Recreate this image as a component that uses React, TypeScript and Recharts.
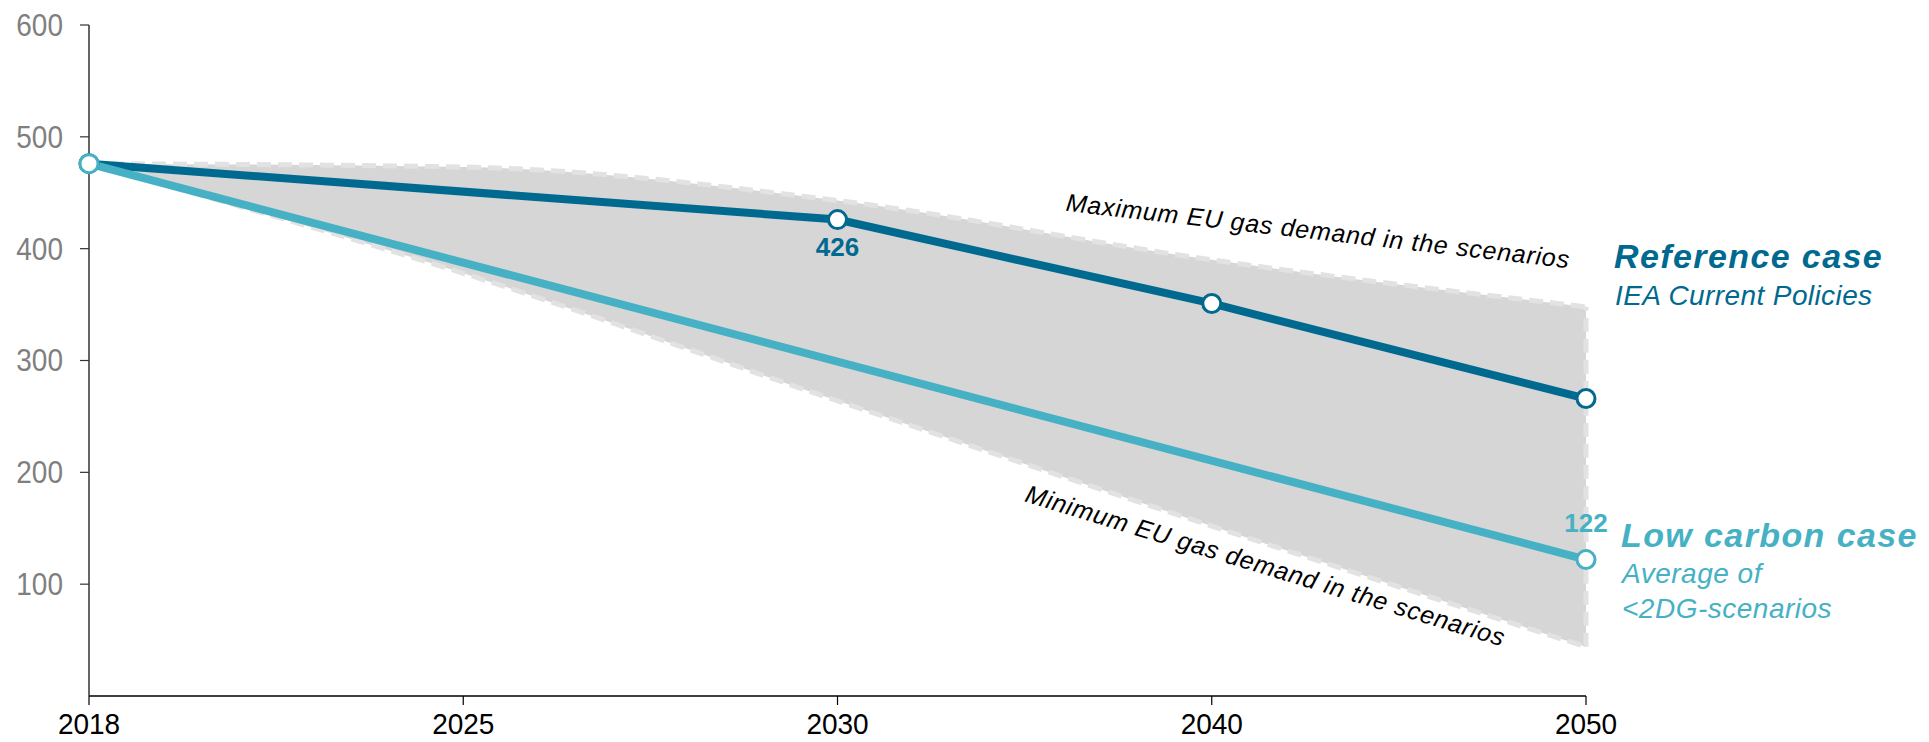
import React from 'react';
import {
  ComposedChart,
  Line,
  Area,
  XAxis,
  YAxis,
  ReferenceLine,
  Customized,
} from 'recharts';

// EU gas demand (bcm) by scenario
const years = ['2018', '2025', '2030', '2040', '2050'];
const referenceCase = [476, null, 426, 351, 266];
const lowCarbonCase = [476, null, null, null, 122];
const scenarioMax = [476, 473, 443, 390, 348];
const scenarioMin = [476, 378, 264, 152, 44];
const yTicks = [100, 200, 300, 400, 500, 600];

// which points carry a value label
const referenceLabelYear = '2030';
const lowCarbonLabelYear = '2050';

const DARK = '#00698f';
const TEAL = '#46b1c4';
const BAND = '#d6d6d6';
const BAND_EDGE = '#e2e2e2';
const FONT = '"Liberation Sans", Arial, Helvetica, sans-serif';

const data = years.map((year, i) => ({
  year,
  reference: referenceCase[i],
  lowCarbon: lowCarbonCase[i],
  band: [scenarioMin[i], scenarioMax[i]],
}));

const lastIndex = years.length - 1;

// Slightly tall tick lettering
const XTick = (props: any) => {
  const { x, y, payload } = props;
  return (
    <g transform={`translate(${x},${y}) scale(1,1.05)`}>
      <text x={0} y={0} dy="0.71em" textAnchor="middle" fontFamily={FONT} fontSize={28} fill="#000">
        {payload.value}
      </text>
    </g>
  );
};

const YTick = (props: any) => {
  const { x, y, payload } = props;
  return (
    <g transform={`translate(${x},${y}) scale(1,1.1)`}>
      <text x={0} y={0} dy="0.355em" textAnchor="end" fontFamily={FONT} fontSize={28} fill="#7f7f7f">
        {payload.value}
      </text>
    </g>
  );
};

const makeValueLabel =
  (labelYear: string, color: string, offset: number) => (props: any) => {
    const { x, y, value, index } = props;
    if (value == null || years[index] !== labelYear) return null;
    return (
      <text
        key={`lbl-${labelYear}-${index}`}
        x={x}
        y={y + offset}
        textAnchor="middle"
        fontFamily={FONT}
        fontWeight="bold"
        fontSize={26}
        fill={color}
      >
        {value}
      </text>
    );
  };

const dot = (color: string) => ({
  r: 9,
  fill: '#ffffff',
  stroke: color,
  strokeWidth: 3,
});

const Annotations = () => (
  <g fontFamily={FONT}>
    <text
      x={1317}
      y={239.5}
      textAnchor="middle"
      fontSize={25}
      fontStyle="italic"
      letterSpacing={0.8}
      fill="#000"
      transform="rotate(6.5 1317 239.5)"
    >
      Maximum EU gas demand in the scenarios
    </text>
    <text
      x={1263}
      y={574}
      textAnchor="middle"
      fontSize={25}
      fontStyle="italic"
      letterSpacing={0.8}
      fill="#000"
      transform="rotate(16.9 1263 574)"
    >
      Minimum EU gas demand in the scenarios
    </text>

    <text x={1614} y={268} fontSize={34} fontWeight="bold" fontStyle="italic" letterSpacing={1.4} fill={DARK}>
      Reference case
    </text>
    <text x={1615} y={305} fontSize={28} fontStyle="italic" letterSpacing={0.4} fill={DARK}>
      IEA Current Policies
    </text>

    <text x={1621} y={547} fontSize={34} fontWeight="bold" fontStyle="italic" letterSpacing={1.4} fill={TEAL}>
      Low carbon case
    </text>
    <text x={1622} y={583} fontSize={28} fontStyle="italic" letterSpacing={0.5} fill={TEAL}>
      Average of
    </text>
    <text x={1622} y={618} fontSize={28} fontStyle="italic" letterSpacing={0.5} fill={TEAL}>
      {'<2DG-scenarios'}
    </text>
  </g>
);

export default function App() {
  return (
    <div style={{ position: 'absolute', left: 0, top: 0, background: '#fff' }}>
      <ComposedChart
        width={1929}
        height={742}
        data={data}
        margin={{ top: 25, right: 343, left: 0, bottom: 0 }}
      >
        <XAxis
          dataKey="year"
          height={46}
          tickSize={9}
          tickMargin={8}
          axisLine={{ stroke: '#000', strokeWidth: 1.5 }}
          tickLine={{ stroke: '#000', strokeWidth: 1.2 }}
          tick={<XTick />}
          interval={0}
        />
        <YAxis
          width={89}
          domain={[0, 600]}
          ticks={yTicks}
          tickSize={9}
          tickMargin={17}
          axisLine={{ stroke: '#333', strokeWidth: 1.5 }}
          tickLine={{ stroke: '#333', strokeWidth: 1.2 }}
          tick={<YTick />}
          interval={0}
        />
        <Area
          dataKey="band"
          type="monotone"
          fill={BAND}
          fillOpacity={1}
          stroke={BAND_EDGE}
          strokeWidth={5}
          strokeDasharray="14 7"
          isAnimationActive={false}
          dot={false}
          activeDot={false}
        />
        <ReferenceLine
          segment={[
            { x: years[lastIndex], y: scenarioMin[lastIndex] },
            { x: years[lastIndex], y: scenarioMax[lastIndex] },
          ]}
          stroke={BAND_EDGE}
          strokeWidth={5}
          strokeDasharray="14 7"
        />
        <Line
          dataKey="reference"
          stroke={DARK}
          strokeWidth={8}
          connectNulls
          dot={dot(DARK)}
          activeDot={false}
          label={makeValueLabel(referenceLabelYear, DARK, 36)}
          isAnimationActive={false}
        />
        <Line
          dataKey="lowCarbon"
          stroke={TEAL}
          strokeWidth={8}
          connectNulls
          dot={dot(TEAL)}
          activeDot={false}
          label={makeValueLabel(lowCarbonLabelYear, TEAL, -28)}
          isAnimationActive={false}
        />
        <Customized component={Annotations} />
      </ComposedChart>
    </div>
  );
}
